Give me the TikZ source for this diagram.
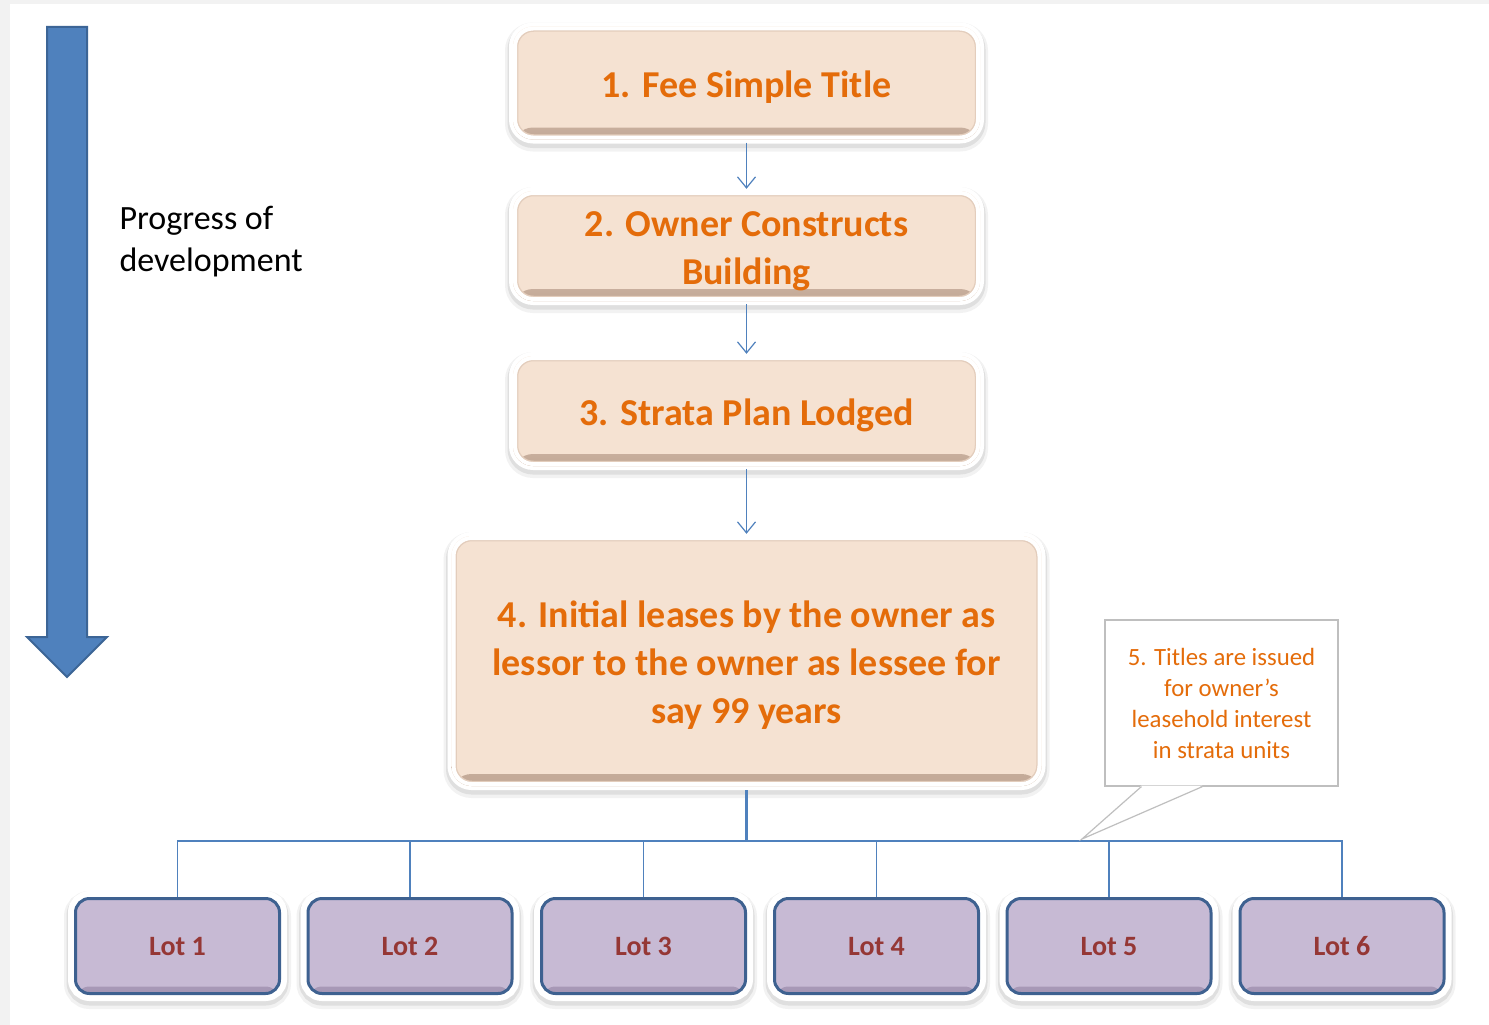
\documentclass[tikz,border=0pt]{standalone}
\usepackage{fontspec}
\setmainfont{Carlito}
\usetikzlibrary{arrows.meta}
\definecolor{bggray}{HTML}{F2F2F2}
\definecolor{peach}{HTML}{F5E2D2}
\definecolor{peachdark}{HTML}{C2A896}
\definecolor{peachedge}{HTML}{E3CDBC}
\definecolor{orangetx}{HTML}{E46C0A}
\definecolor{lavender}{HTML}{C7BAD4}
\definecolor{lavdark}{HTML}{A596B4}
\definecolor{lotborder}{HTML}{3E6190}
\definecolor{lottx}{HTML}{953735}
\definecolor{linkblue}{HTML}{4F81BD}
\definecolor{arrowedge}{HTML}{3C6596}
\definecolor{calloutgray}{HTML}{BFBFBF}
\newcommand\stagetxt[1]{\raisebox{-5pt}[\height][\depth]{\begin{tabular}{@{}c@{}}#1\end{tabular}}}
\tikzset{
  softshadow/.style={preaction={draw=black, draw opacity=0.05, fill=none, line width=#1+8pt, transform canvas={yshift=-4pt}},
                     preaction={draw=black, draw opacity=0.08, fill=none, line width=#1+3pt, transform canvas={yshift=-3pt}}},
  stage/.style={rounded corners=20pt, softshadow=8pt, preaction={draw=white, fill=none, line width=8pt},
    fill=peach, draw=none,
    text=orangetx, font=\bfseries\fontsize{38}{48}\selectfont, align=center, inner sep=0pt,
    path picture={\shade[top color=peach, bottom color=peachdark]
      ([yshift=12pt]path picture bounding box.south west) rectangle (path picture bounding box.south east);
      \draw[peachedge, line width=1.5pt, rounded corners=16pt] ([shift={(4.5pt,4.5pt)}]path picture bounding box.south west) rectangle ([shift={(-4.5pt,-4.5pt)}]path picture bounding box.north east);
      \draw[white, line width=8pt, rounded corners=20pt] (path picture bounding box.south west) rectangle (path picture bounding box.north east);}},
  lotbox/.style={rounded corners=14pt, softshadow=15pt, preaction={draw=white, fill=none, line width=15pt},
    fill=lavender, draw=lotborder, line width=3pt, minimum width=204pt, minimum height=95pt,
    text=lottx, font=\bfseries\fontsize{28}{32}\selectfont, inner sep=0pt, text height=19pt, text depth=0pt,
    path picture={\shade[top color=lavender, bottom color=lavdark]
      ([yshift=7pt]path picture bounding box.south west) rectangle (path picture bounding box.south east);}},
  conn/.style={draw=linkblue, line width=1.2pt, -{Straight Barb[length=11pt,width=18pt]}, shorten <=3pt, shorten >=2pt},
  tree/.style={draw=linkblue, line width=1.3pt},
  notebox/.style={draw=calloutgray, line width=1.2pt, fill=white, minimum width=233pt, minimum height=166pt,
    text=orangetx, font=\fontsize{24.8}{31}\selectfont, align=center, inner sep=0pt},
}
\begin{document}
\begin{tikzpicture}[x=1pt, y=-1pt]
\useasboundingbox (0,0) rectangle (1489,1025);
\fill[bggray] (0,0) rectangle (1489,1025);
\fill[white] (10,4) rectangle (1489,1025);

% big progress arrow
\draw[fill=linkblue, draw=arrowedge, line width=2pt, line join=miter]
  (47,27) -- (87,27) -- (87,637) -- (107,637) -- (67,677) -- (27,637) -- (47,637) -- cycle;
\node[anchor=west, align=left, font=\fontsize{34}{42}\selectfont] (prog) at (116,242) {Progress of\\development};

% stages
\node[stage, minimum width=467pt, minimum height=113pt] (b1) at (746.5,83) {\stagetxt{1. Fee Simple Title}};
\node[stage, minimum width=467pt, minimum height=110pt] (b2) at (746.5,246) {\stagetxt{2. Owner Constructs\\Building}};
\node[stage, minimum width=467pt, minimum height=110pt] (b3) at (746.5,411) {\stagetxt{3. Strata Plan Lodged}};
\node[stage, minimum width=590pt, minimum height=250pt] (b4) at (746.5,661) {\stagetxt{4. Initial leases by the owner as\\lessor to the owner as lessee for\\say 99 years}};

\draw[conn] (b1) -- (b2);
\draw[conn] (b2) -- (b3);
\draw[conn] (b3) -- (b4);

% lots
\node[lotbox] (l1) at (177.5,946) {Lot 1};
\node[lotbox] (l2) at (410,946) {Lot 2};
\node[lotbox] (l3) at (643.5,946) {Lot 3};
\node[lotbox] (l4) at (876.5,946) {Lot 4};
\node[lotbox] (l5) at (1109,946) {Lot 5};
\node[lotbox] (l6) at (1342,946) {Lot 6};

\coordinate (hub) at (746.5,841);
\draw[tree, line width=2.2pt, shorten <=4pt] (b4) -- (hub);
\draw[tree] (l1.north) -- (l1.north |- hub) -- (l6.north |- hub) -- (l6.north);
\foreach \l in {l2,l3,l4,l5} \draw[tree] (\l.north) -- (\l.north |- hub);

% callout
\node[notebox] (note) at (1221.5,703) {5. Titles are issued\\for owner’s\\leasehold interest\\in strata units};
\coordinate (tip) at (1082,839);
\fill[white] ([xshift=37pt,yshift=1pt]note.south west) -- (tip) -- ([xshift=98pt,yshift=1pt]note.south west) -- cycle;
\draw[calloutgray, line width=1.2pt, line join=miter] ([xshift=37pt]note.south west) -- (tip) -- ([xshift=98pt]note.south west);
\end{tikzpicture}
\end{document}
